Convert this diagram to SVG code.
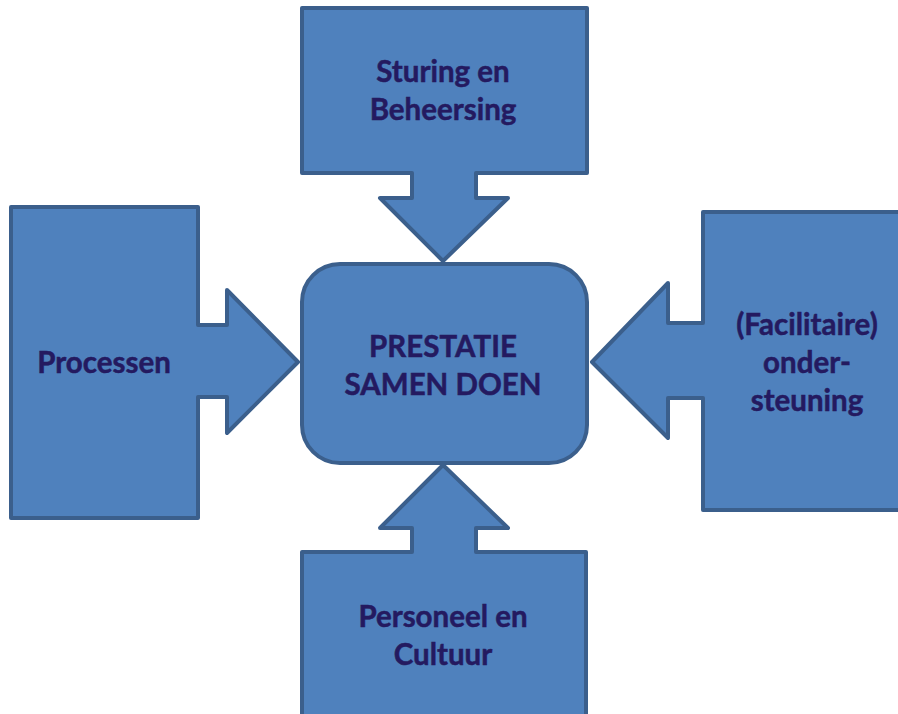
<svg xmlns="http://www.w3.org/2000/svg" width="898" height="714" viewBox="0 0 898 714">
<style>
.s{fill:#4f81bd;stroke:#3b5f8c;stroke-width:4;stroke-linejoin:round}
.t{font-family:Lato,"Open Sans","Liberation Sans",sans-serif;font-weight:bold;font-size:29.5px;fill:#241a60;stroke:#241a60;stroke-width:0.5;text-anchor:middle}
</style>
<rect width="898" height="714" fill="#ffffff"/>
<g id="connectors"></g>
<g id="top">
<path class="s" d="M302,8 H587 V173 H476 V198 H508 L443,261 L380,198 H412 V173 H302 Z"/>
<text class="t" x="443" y="82">Sturing en</text>
<text class="t" x="443" y="120">Beheersing</text>
</g>
<g id="left">
<path class="s" d="M11,207 H198 V325 H227 V290 L298,362 L227,433 V397 H198 V518 H11 Z"/>
<text class="t" x="104" y="373">Processen</text>
</g>
<g id="right">
<path class="s" d="M905,212 H703 V323 H668 V283 L592,362 L668,438 V398 H703 V510 H905 Z"/>
<text class="t" x="807" y="335">(Facilitaire)</text>
<text class="t" x="807" y="373">onder-</text>
<text class="t" x="807" y="411">steuning</text>
</g>
<g id="bottom">
<path class="s" d="M302,720 V552 H412 V528 H380 L443,465 L508,528 H476 V552 H586 V720 Z"/>
<text class="t" x="443" y="627">Personeel en</text>
<text class="t" x="443" y="665">Cultuur</text>
</g>
<g id="center">
<rect class="s" x="302" y="264" width="285" height="199" rx="38" ry="38"/>
<text class="t" x="443" y="357">PRESTATIE</text>
<text class="t" x="443" y="395">SAMEN DOEN</text>
</g>
</svg>
